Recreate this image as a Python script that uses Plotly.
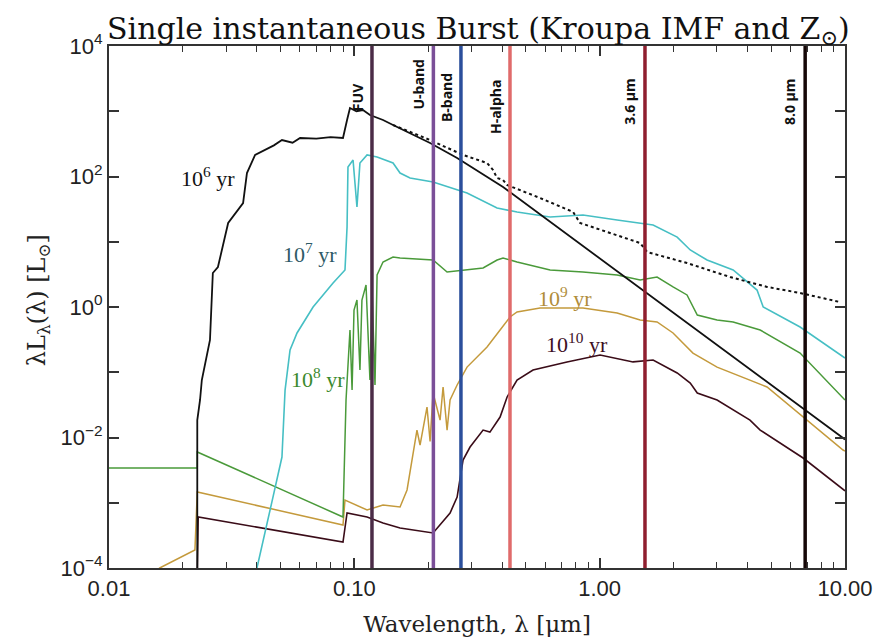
import numpy as np
import plotly.graph_objects as go

# ---------------- data (wavelength in micron, lambda*L_lambda in L_sun) -------------
wl_6 = [0.0229, 0.0229, 0.0235, 0.0239, 0.0258, 0.0265, 0.0278, 0.0292, 0.0306, 0.0352,
        0.0365, 0.0394, 0.0430, 0.0470, 0.0507, 0.0560, 0.0601, 0.0700, 0.0800, 0.0899,
        0.0934, 0.0960, 0.1020, 0.1084, 0.1158, 0.1309, 0.1438, 0.1581, 0.2036, 0.2624,
        0.3252, 0.4038, 9.82, 10.0]
L_6 = [5e-5, 0.0185, 0.0376, 0.076, 0.312, 3.32, 4.10, 9.57, 19.4, 39.2,
       113, 214, 250, 300, 362, 330, 389, 380, 400, 389,
       735, 1122, 1000, 1045, 877, 735, 616, 516, 326, 192,
       117, 69.0, 0.00982, 0.0093]

wl_6d = [0.1438, 0.2036, 0.2774, 0.3475, 0.3675, 0.3818, 0.4038, 0.4195, 0.5715, 0.779,
         0.832, 1.072, 1.462, 1.560, 2.27, 3.40, 4.81, 6.56, 9.55]
L_6d = [616, 362, 214, 161, 126, 94.9, 88.4, 74.1, 46.8, 28.6,
        19.4, 14.1, 9.57, 6.97, 4.72, 2.88, 2.03, 1.64, 1.19]

wl_7 = [0.0385, 0.0401, 0.0466, 0.0507, 0.0522, 0.0547, 0.0584, 0.0679, 0.0819, 0.0916,
        0.0934, 0.0942, 0.0988, 0.1025, 0.1054, 0.1127, 0.1238, 0.1438, 0.1536, 0.1687,
        0.2094, 0.2880, 0.3818, 0.4605, 0.628, 0.855, 1.178, 1.651, 2.07, 2.34,
        2.74, 3.50, 4.38, 4.64, 6.56, 10.0]
L_7 = [8e-5, 1e-4, 0.00122, 0.00502, 0.0534, 0.22, 0.40, 1.0, 2.33, 3.69,
       16.8, 140, 179, 34.1, 161, 214, 199, 161, 113, 94.9,
       82.4, 55.8, 32.9, 28.6, 23.9, 25.7, 21.5, 18.1, 11.8, 7.48,
       5.25, 3.69, 1.82, 1.00, 0.494, 0.165]

wl_8 = [0.01, 0.0229, 0.0229, 0.0899, 0.0925, 0.0942, 0.0960, 0.0979, 0.0997, 0.1025,
        0.1054, 0.1074, 0.1116, 0.1158, 0.1181, 0.1214, 0.1238, 0.1309, 0.1438, 0.1536,
        0.2094, 0.2388, 0.3348, 0.3818, 0.4038, 0.4605, 0.628, 0.855, 1.178, 1.462,
        1.714, 1.991, 2.27, 2.50, 3.01, 3.50, 4.51, 6.56, 10.0]
L_8 = [0.00341, 0.00341, 0.006, 0.000605, 0.0376, 0.154, 0.444, 0.0534, 0.899, 1.28,
       0.108, 1.28, 2.17, 0.076, 1.82, 0.0638, 3.09, 4.90, 5.84, 5.64,
       5.25, 3.44, 3.96, 5.25, 5.64, 4.90, 3.69, 3.44, 3.09, 2.59,
       2.88, 2.03, 1.53, 0.754, 0.632, 0.589, 0.444, 0.197, 0.0376]

wl_9 = [0.0147, 0.0161, 0.0224, 0.0229, 0.0899, 0.0916, 0.1127, 0.1309, 0.1536, 0.164,
        0.180, 0.1853, 0.1978, 0.2036, 0.2094, 0.2236, 0.230, 0.2388, 0.2456, 0.2624,
        0.288, 0.3475, 0.3927, 0.4313, 0.4605, 0.5715, 0.855, 1.178, 1.462, 1.714,
        1.991, 2.40, 3.01, 4.81, 9.82, 10.0]
L_9 = [7.8e-5, 1e-4, 0.000189, 0.00146, 0.000456, 0.0011, 0.000774, 0.000924, 0.000861, 0.00157,
       0.013, 0.00767, 0.0293, 0.0087, 0.0481, 0.0185, 0.0594, 0.013, 0.0376, 0.0638,
       0.12, 0.244, 0.444, 0.703, 0.838, 0.966, 0.966, 0.809, 0.632, 0.589,
       0.400, 0.197, 0.120, 0.0594, 0.00643, 0.0062]

wl_10 = [0.0229, 0.0231, 0.0899, 0.0934, 0.1127, 0.1309, 0.1536, 0.2094, 0.2456, 0.2624,
         0.2774, 0.2963, 0.3348, 0.357, 0.3927, 0.4195, 0.4605, 0.535, 0.736, 1.004,
         1.368, 1.651, 2.07, 2.34, 2.50, 3.01, 4.10, 4.51, 6.75, 10.0]
L_10 = [8e-5, 0.000605, 0.00025, 0.000697, 0.000605, 0.00049, 0.00041, 0.000344, 0.000697, 0.00122,
        0.00452, 0.00715, 0.013, 0.0121, 0.0206, 0.0418, 0.076, 0.108, 0.144, 0.184,
        0.144, 0.154, 0.0975, 0.0684, 0.0481, 0.0376, 0.0185, 0.013, 0.00485, 0.00152]

band_names = ["FUV", "U-band", "B-band", "H-alpha", "3.6 μm", "8.0 μm"]
band_wl = [0.118, 0.21, 0.272, 0.431, 1.53, 6.88]
band_colors = ["#4b2c47", "#7b4f98", "#2b4f9c", "#e06b6b", "#8f1f2f", "#150707"]
band_label_y = [0.902, 0.927, 0.902, 0.883, 0.895, 0.893]

age_labels = ["10<sup>6</sup> yr", "10<sup>7</sup> yr", "10<sup>8</sup> yr",
              "10<sup>9</sup> yr", "10<sup>10</sup> yr"]
age_label_wl = [0.0253, 0.0659, 0.0711, 0.723, 0.809]
age_label_L = [98, 6.7, 0.0817, 1.42, 0.281]
age_colors = ["#111111", "#2e5a66", "#3b8a2e", "#b08d3a", "#3d0f1f"]

x_tickvals = [0.01, 0.1, 1, 10]
x_ticktext = ["0.01", "0.10", "1.00", "10.00"]
y_tickvals = [1e-4, 1e-2, 1, 1e2, 1e4]
y_ticktext = ["10<sup>−4</sup>", "10<sup>−2</sup>", "10<sup>0</sup>",
              "10<sup>2</sup>", "10<sup>4</sup>"]
y_minor_vals = [1e-3, 1e-1, 10, 1e3]
x_minor_vals = [m * d for d in (0.01, 0.1, 1) for m in range(2, 10)]

# ---------------- figure ----------------
fig = go.Figure()

def add_line(x, y, color, width=1.6, dash="solid"):
    fig.add_trace(go.Scatter(x=x, y=y, mode="lines", showlegend=False,
                             line=dict(color=color, width=width, dash=dash),
                             hoverinfo="skip", cliponaxis=True))

add_line(wl_10, L_10, "#3a0c18", 1.6)
add_line(wl_9, L_9, "#c49a3c", 1.5)
add_line(wl_8, L_8, "#4a9a3a", 1.5)
add_line(wl_7, L_7, "#46bfc4", 1.6)
add_line(wl_6d, L_6d, "#111111", 2.0, "dot")
add_line(wl_6, L_6, "#111111", 1.8)

for wl, c in zip(band_wl, band_colors):
    fig.add_trace(go.Scatter(x=[wl, wl], y=[1e-4, 1e4], mode="lines", showlegend=False,
                             line=dict(color=c, width=3.5), hoverinfo="skip"))

annotations = []
for name, wl, c, yp in zip(band_names, band_wl, band_colors, band_label_y):
    annotations.append(dict(x=np.log10(wl), y=yp, xref="x", yref="paper",
                            text="<b>" + name + "</b>",
                            showarrow=False, textangle=-90, xshift=-15,
                            font=dict(family="Open Sans", size=14, color="#111111"),
                            xanchor="center", yanchor="middle"))
for txt, wl, L, c in zip(age_labels, age_label_wl, age_label_L, age_colors):
    annotations.append(dict(x=np.log10(wl), y=np.log10(L), xref="x", yref="y", text=txt,
                            showarrow=False,
                            font=dict(family="Liberation Serif", size=22, color=c),
                            xanchor="center", yanchor="middle"))
# y-axis title placed as a rotated annotation
annotations.append(dict(x=-0.0965, y=0.513, xref="paper", yref="paper",
                        text="λL<sub>λ</sub>(λ) [L<sub>⊙</sub>]", textangle=-90,
                        showarrow=False, xanchor="center", yanchor="middle",
                        font=dict(family="DejaVu Serif", size=24, color="#222222")))

fig.update_layout(
    width=881, height=637,
    margin=dict(l=109, r=36, t=46, b=69),
    paper_bgcolor="white", plot_bgcolor="white",
    title=dict(text="Single instantaneous Burst (Kroupa IMF and Z<sub>⊙</sub>)",
               x=0.543, xanchor="center", y=0.955, yanchor="middle",
               font=dict(family="DejaVu Serif", size=30, color="#111111")),
    annotations=annotations,
    xaxis=dict(type="log", range=[-2, 1], showgrid=False, zeroline=False,
               automargin=False,
               showline=True, linecolor="#333333", linewidth=2, mirror="ticks",
               ticks="inside", ticklen=10, tickwidth=1.5, tickcolor="#333333",
               tickmode="array", tickvals=x_tickvals, ticktext=x_ticktext,
               tickfont=dict(family="Liberation Sans", size=22, color="#222222"),
               minor=dict(ticks="inside", ticklen=6, tickwidth=1.3, tickcolor="#333333",
                          tickmode="array", tickvals=x_minor_vals, showgrid=False),
               title=dict(text="Wavelength, λ [μm]",
                          font=dict(family="DejaVu Serif", size=23, color="#222222"))),
    yaxis=dict(type="log", range=[-4, 4], showgrid=False, zeroline=False,
               automargin=False,
               showline=True, linecolor="#333333", linewidth=2, mirror="ticks",
               ticks="inside", ticklen=10, tickwidth=1.5, tickcolor="#333333",
               tickmode="array", tickvals=y_tickvals, ticktext=y_ticktext,
               tickfont=dict(family="Liberation Sans", size=22, color="#222222"),
               minor=dict(ticks="inside", ticklen=10, tickwidth=1.5, tickcolor="#333333",
                          tickmode="array", tickvals=y_minor_vals, showgrid=False)),
)

fig.write_html("out.html")
